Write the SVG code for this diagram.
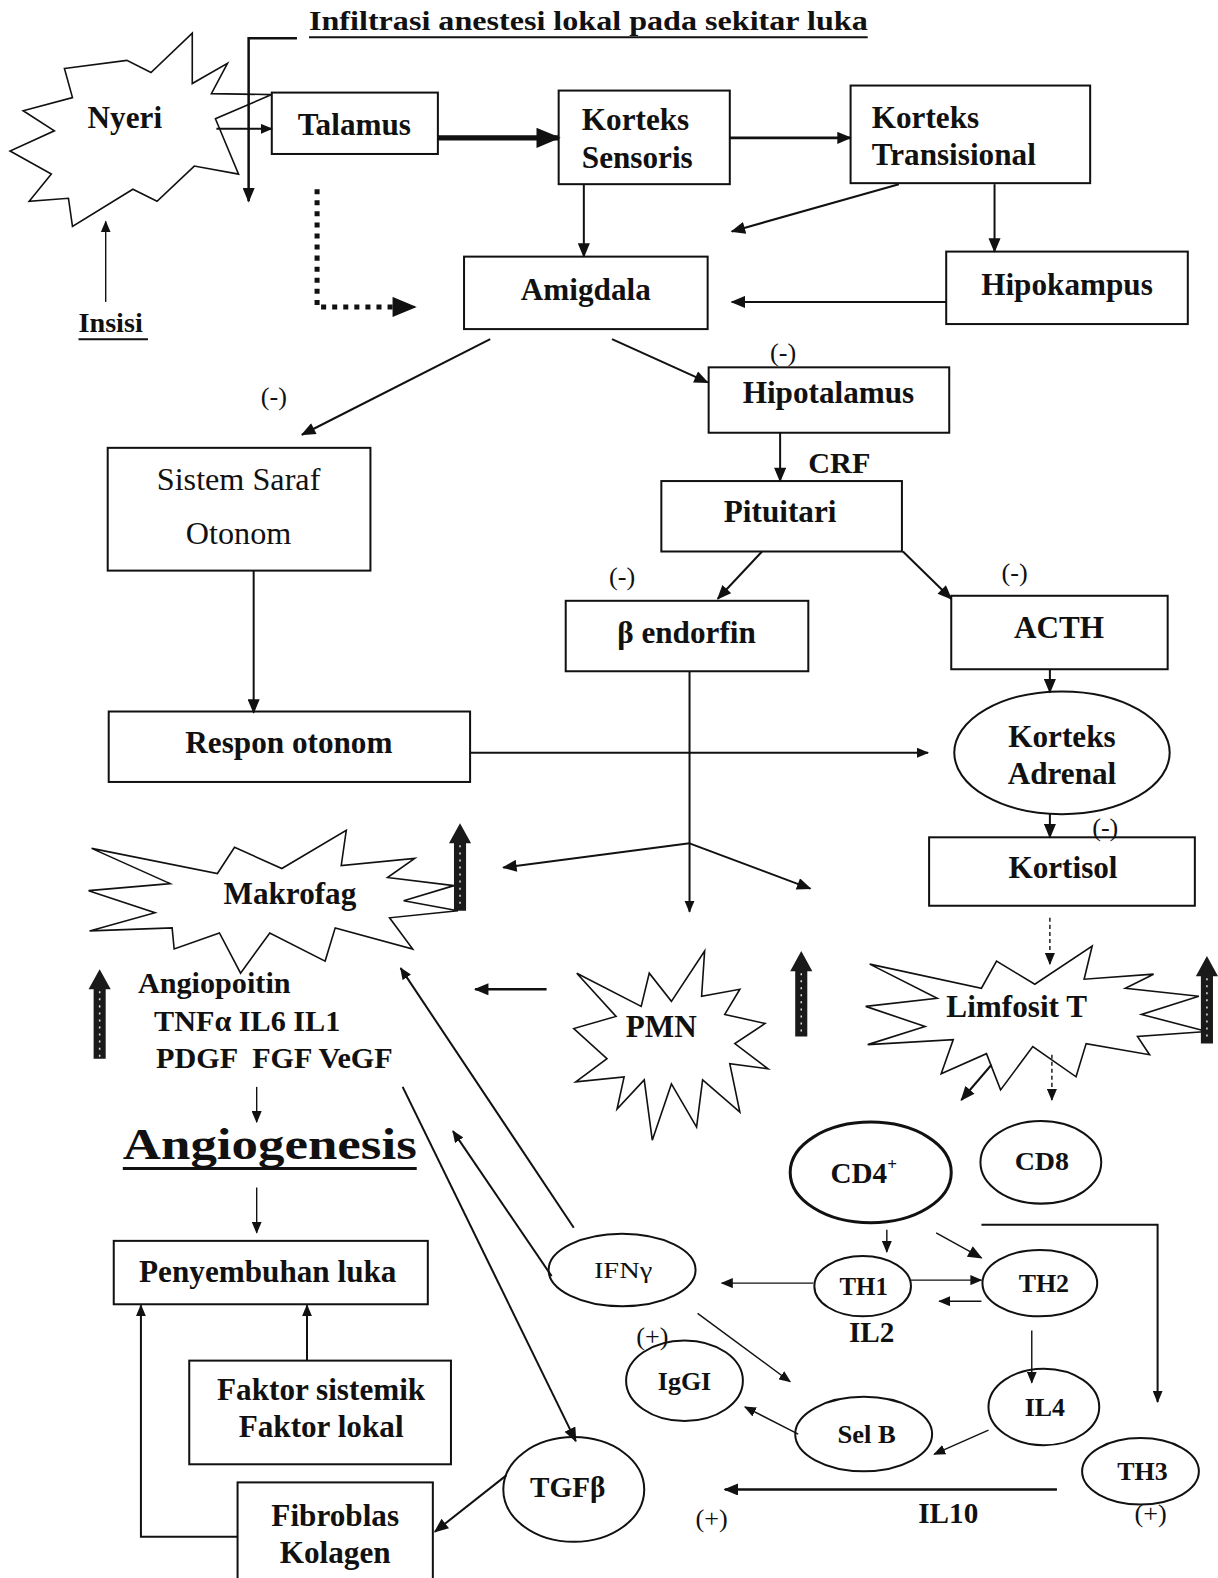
<svg xmlns="http://www.w3.org/2000/svg" width="1218" height="1578" viewBox="0 0 1218 1578">
<defs>
<marker id="a" viewBox="0 0 12 10" refX="11" refY="5" markerWidth="15" markerHeight="12" markerUnits="userSpaceOnUse" orient="auto"><path d="M0,0 L12,5 L0,10 Z" fill="#111"/></marker>
<marker id="aS" viewBox="0 0 12 10" refX="11" refY="5" markerWidth="12" markerHeight="10" markerUnits="userSpaceOnUse" orient="auto"><path d="M0,0 L12,5 L0,10 Z" fill="#111"/></marker>
<marker id="aL" viewBox="0 0 12 10" refX="11" refY="5" markerWidth="26" markerHeight="20" markerUnits="userSpaceOnUse" orient="auto"><path d="M0,0 L12,5 L0,10 Z" fill="#111"/></marker>
</defs>
<style>
.b{fill:#fff;stroke:#111;stroke-width:2}
.s{fill:#fff;stroke:#111;stroke-width:1.6;stroke-linejoin:miter}
.t{font-family:"Liberation Serif","Times New Roman",serif;font-weight:bold;font-size:31px;fill:#111}
.r{font-family:"Liberation Serif","Times New Roman",serif;font-size:26px;fill:#111}
.m{text-anchor:middle}
.c{fill:none;stroke:#111;stroke-width:2}
.th{stroke-width:1.4}
.up{fill:#1a1a1a}
.upx{fill:none;stroke:#ddd;stroke-width:1.5;stroke-dasharray:2 5}
</style>
<rect width="1218" height="1578" fill="#fff"/>
<g transform="scale(1.00661 1.00638)">

<g id="top-label">
<text class="t" x="307" y="30" style="font-size:28px" textLength="555" lengthAdjust="spacingAndGlyphs">Infiltrasi anestesi lokal pada sekitar luka</text>
<line x1="307" y1="37" x2="862" y2="37" stroke="#111" stroke-width="2"/>
</g>

<g id="nyeri">
<polygon class="s" points="64,68 126,60 150,72 191,33 191,83 226,63 210,93 270,94 214,118 237,173 193,165 156,200 132,188 72,225 68,197 29,200 51,173 10,150 54,130 23,110 72,97"/>
<text class="t m" x="124" y="127">Nyeri</text>
</g>

<g id="insisi">
<text class="t" x="78" y="330" style="font-size:28px">Insisi</text>
<line x1="78" y1="337" x2="147" y2="337" stroke="#111" stroke-width="2"/>
</g>

<g id="talamus"><rect class="b" x="270" y="92" width="165" height="61"/><text class="t m" x="352" y="134">Talamus</text></g>
<g id="korteks-sensoris"><rect class="b" x="555" y="90" width="170" height="93"/><text class="t" x="578" y="129">Korteks</text><text class="t" x="578" y="167">Sensoris</text></g>
<g id="korteks-transisional"><rect class="b" x="845" y="85" width="238" height="97"/><text class="t" x="866" y="127">Korteks</text><text class="t" x="866" y="164">Transisional</text></g>
<g id="amigdala"><rect class="b" x="461" y="255" width="242" height="72"/><text class="t m" x="582" y="298">Amigdala</text></g>
<g id="hipokampus"><rect class="b" x="940" y="250" width="240" height="72"/><text class="t m" x="1060" y="293">Hipokampus</text></g>
<g id="hipotalamus"><rect class="b" x="704" y="365" width="239" height="65"/><text class="t m" x="823" y="400">Hipotalamus</text></g>
<g id="pituitari"><rect class="b" x="657" y="478" width="239" height="70"/><text class="t m" x="775" y="519">Pituitari</text></g>
<g id="beta-endorfin"><rect class="b" x="562" y="597" width="241" height="70"/><text class="t m" x="682" y="639">β endorfin</text></g>
<g id="acth"><rect class="b" x="945" y="592" width="215" height="73"/><text class="t m" x="1052" y="634">ACTH</text></g>
<g id="korteks-adrenal"><ellipse class="b" cx="1055" cy="748" rx="107" ry="61"/><text class="t m" x="1055" y="742">Korteks</text><text class="t m" x="1055" y="779">Adrenal</text></g>
<g id="kortisol"><rect class="b" x="923" y="832" width="264" height="68"/><text class="t m" x="1056" y="872">Kortisol</text></g>
<g id="sistem-saraf"><rect class="b" x="107" y="445" width="261" height="122"/><text class="r m" x="237" y="487" style="font-size:32px">Sistem Saraf</text><text class="r m" x="237" y="541" style="font-size:32px">Otonom</text></g>
<g id="respon-otonom"><rect class="b" x="108" y="707" width="359" height="70"/><text class="t m" x="287" y="748">Respon otonom</text></g>

<g id="makrofag">
<polygon class="s" points="91,843 169,878 88,885 154,907 89,925 171,922 173,943 218,927 239,967 268,927 323,955 333,922 410,943 387,912 455,905 401,895 451,880 385,872 412,853 339,860 344,825 280,863 233,842 216,868"/>
<text class="t m" x="288" y="898">Makrofag</text>
</g>
<g id="pmn">
<polygon class="s" points="573,967 637,1000 645,967 667,995 700,945 697,990 735,983 720,1008 760,1017 730,1037 763,1062 725,1057 735,1105 698,1073 692,1120 667,1077 648,1133 640,1073 613,1102 620,1070 572,1075 603,1052 570,1022 612,1010"/>
<text class="t m" x="657" y="1030">PMN</text>
</g>
<g id="limfosit-t">
<polygon class="s" points="864,958 931,992 860,1000 919,1020 862,1038 947,1033 935,1067 980,1047 994,1083 1026,1040 1069,1070 1079,1037 1142,1048 1130,1030 1199,1025 1134,1008 1191,990 1118,982 1146,968 1077,973 1085,940 1028,978 990,955 975,982"/>
<text class="t m" x="1010" y="1011">Limfosit T</text>
</g>

<g id="up-arrows">
<path class="up" d="M451,905 V838 H446 L457,818 L468,838 H463 V905 Z"/><line class="upx" x1="457" y1="840" x2="457" y2="903"/>
<path class="up" d="M93,1052 V983 H88 L99,963 L110,983 H105 V1052 Z"/><line class="upx" x1="99" y1="985" x2="99" y2="1050"/>
<path class="up" d="M790,1030 V965 H785 L796,945 L807,965 H802 V1030 Z"/><line class="upx" x1="796" y1="967" x2="796" y2="1028"/>
<path class="up" d="M1193,1037 V970 H1188 L1199,950 L1210,970 H1205 V1037 Z"/><line class="upx" x1="1199" y1="972" x2="1199" y2="1035"/>
</g>

<g id="angio-factors">
<text class="t" x="137" y="987" style="font-size:30px">Angiopoitin</text>
<text class="t" x="153" y="1024" style="font-size:30px">TNFα IL6 IL1</text>
<text class="t" x="155" y="1061" style="font-size:30px" xml:space="preserve">PDGF  FGF VeGF</text>
</g>
<g id="angiogenesis">
<text class="t" x="122" y="1152" style="font-size:43px" textLength="292" lengthAdjust="spacingAndGlyphs">Angiogenesis</text>
<line x1="122" y1="1161" x2="414" y2="1161" stroke="#111" stroke-width="3"/>
</g>
<g id="penyembuhan-luka"><rect class="b" x="113" y="1233" width="312" height="63"/><text class="t m" x="266" y="1274">Penyembuhan luka</text></g>
<g id="faktor"><rect class="b" x="188" y="1352" width="260" height="103"/><text class="t m" x="319" y="1391">Faktor sistemik</text><text class="t m" x="319" y="1428">Faktor lokal</text></g>
<g id="fibroblas"><rect class="b" x="236" y="1473" width="194" height="110"/><text class="t m" x="333" y="1516">Fibroblas</text><text class="t m" x="333" y="1553">Kolagen</text></g>
<g id="tgfb"><ellipse class="b" cx="570" cy="1480" rx="70" ry="52"/><text class="t m" x="564" y="1488" style="font-size:29px">TGFβ</text></g>

<g id="cd4"><ellipse class="b" cx="865" cy="1165" rx="80" ry="50" style="stroke-width:3"/><text class="t m" x="858" y="1176" style="font-size:29px">CD4<tspan dy="-13" style="font-size:17px">+</tspan></text></g>
<g id="cd8"><ellipse class="b" cx="1034" cy="1155" rx="60" ry="41"/><text class="t m" x="1035" y="1163" style="font-size:25px" textLength="54" lengthAdjust="spacingAndGlyphs">CD8</text></g>
<g id="th1"><ellipse class="b" cx="857" cy="1278" rx="48" ry="30"/><text class="t m" x="858" y="1287" style="font-size:24px" textLength="48" lengthAdjust="spacingAndGlyphs">TH1</text></g>
<g id="th2"><ellipse class="b" cx="1033" cy="1275" rx="57" ry="33"/><text class="t m" x="1037" y="1284" style="font-size:24px" textLength="50" lengthAdjust="spacingAndGlyphs">TH2</text></g>
<g id="ifng"><ellipse class="b" cx="618" cy="1262" rx="73" ry="36"/><text class="r m" x="619" y="1270" style="font-size:23px" textLength="58" lengthAdjust="spacingAndGlyphs">IFNγ</text></g>
<g id="igg1"><ellipse class="b" cx="680" cy="1372" rx="58" ry="40"/><text class="t m" x="680" y="1381" style="font-size:25px" textLength="53" lengthAdjust="spacingAndGlyphs">IgGI</text></g>
<g id="sel-b"><ellipse class="b" cx="858" cy="1425" rx="68" ry="37"/><text class="t m" x="861" y="1434" style="font-size:24px" textLength="58" lengthAdjust="spacingAndGlyphs">Sel B</text></g>
<g id="il4"><ellipse class="b" cx="1037" cy="1398" rx="55" ry="38"/><text class="t m" x="1038" y="1407" style="font-size:25px" textLength="40" lengthAdjust="spacingAndGlyphs">IL4</text></g>
<g id="th3"><ellipse class="b" cx="1133" cy="1462" rx="58" ry="33"/><text class="t m" x="1135" y="1471" style="font-size:24px" textLength="50" lengthAdjust="spacingAndGlyphs">TH3</text></g>

<g id="labels">
<text class="r m" x="272" y="402">(-)</text>
<text class="r m" x="778" y="359">(-)</text>
<text class="r m" x="618" y="581">(-)</text>
<text class="r m" x="1008" y="577">(-)</text>
<text class="r m" x="1098" y="831">(-)</text>
<text class="t" x="803" y="470" style="font-size:30px">CRF</text>
<text class="t m" x="866" y="1333" style="font-size:29px">IL2</text>
<text class="t m" x="942" y="1513" style="font-size:29px">IL10</text>
<text class="r m" x="648" y="1336">(+)</text>
<text class="r m" x="707" y="1517">(+)</text>
<text class="r m" x="1143" y="1512">(+)</text>
</g>

<g id="connectors">
<path class="c" d="M295,38 H247 V200" style="stroke-width:2.5" marker-end="url(#a)"/>
<path class="c" d="M215,128 H270" marker-end="url(#aS)"/>
<path class="c th" d="M105,300 V220" marker-end="url(#aS)"/>
<path class="c" d="M435,137 H555" style="stroke-width:5" marker-end="url(#aL)"/>
<path class="c" d="M725,137 H845" style="stroke-width:2.5" marker-end="url(#a)"/>
<path class="c" d="M893,183 L727,230" marker-end="url(#a)"/>
<path class="c" d="M988,183 V250" marker-end="url(#a)"/>
<path class="c" d="M940,300 H727" marker-end="url(#a)"/>
<path class="c" d="M580,183 V255" marker-end="url(#a)"/>
<path class="c" d="M315,188 V305 H395" style="stroke-width:5;stroke-dasharray:5 6"/>
<path class="c" d="M395,305 H412" marker-end="url(#aL)"/>
<path class="c" d="M487,337 L300,432" marker-end="url(#a)"/>
<path class="c" d="M608,337 L703,380" marker-end="url(#a)"/>
<path class="c" d="M775,430 V478" marker-end="url(#a)"/>
<path class="c" d="M757,548 L713,595" marker-end="url(#a)"/>
<path class="c" d="M897,548 L945,595" marker-end="url(#a)"/>
<path class="c" d="M1043,665 V688" marker-end="url(#a)"/>
<path class="c" d="M1043,808 V832" marker-end="url(#a)"/>
<path class="c th" d="M1043,912 V958" style="stroke-dasharray:4 3" marker-end="url(#aS)"/>
<path class="c" d="M252,567 V708" marker-end="url(#a)"/>
<path class="c" d="M467,748 H922" marker-end="url(#aS)"/>
<path class="c" d="M685,667 V906" marker-end="url(#aS)"/>
<path class="c" d="M685,838 L500,862" marker-end="url(#a)"/>
<path class="c" d="M685,838 L805,883" marker-end="url(#a)"/>
<path class="c" d="M543,983 H472" style="stroke-width:2.5" marker-end="url(#a)"/>
<path class="c" d="M570,1220 L398,962" marker-end="url(#aS)"/>
<path class="c" d="M548,1268 L450,1124" marker-end="url(#aS)"/>
<path class="c" d="M400,1080 L572,1432" marker-end="url(#a)"/>
<path class="c th" d="M255,1080 V1115" marker-end="url(#aS)"/>
<path class="c th" d="M255,1180 V1225" marker-end="url(#aS)"/>
<path class="c" d="M305,1352 V1297" marker-end="url(#aS)"/>
<path class="c" d="M236,1527 H140 V1297" marker-end="url(#aS)"/>
<path class="c" d="M503,1466 L432,1522" marker-end="url(#a)"/>
<path class="c" d="M985,1058 L955,1093" marker-end="url(#a)"/>
<path class="c th" d="M1045,1048 V1093" style="stroke-dasharray:4 3" marker-end="url(#aS)"/>
<path class="c th" d="M881,1222 V1244" marker-end="url(#aS)"/>
<path class="c th" d="M930,1225 L975,1250" marker-end="url(#a)"/>
<path class="c" d="M975,1217 H1150 V1393" marker-end="url(#aS)"/>
<path class="c th" d="M905,1272 H975" marker-end="url(#aS)"/>
<path class="c th" d="M975,1293 H933" marker-end="url(#aS)"/>
<path class="c th" d="M808,1275 H717" marker-end="url(#aS)"/>
<path class="c th" d="M693,1305 L785,1373" marker-end="url(#aS)"/>
<path class="c th" d="M1025,1322 V1374" marker-end="url(#aS)"/>
<path class="c th" d="M982,1421 L928,1445" marker-end="url(#aS)"/>
<path class="c th" d="M793,1425 L740,1398" marker-end="url(#aS)"/>
<path class="c" d="M1050,1480 H720" style="stroke-width:2.5" marker-end="url(#a)"/>
</g>
</g>
</svg>
